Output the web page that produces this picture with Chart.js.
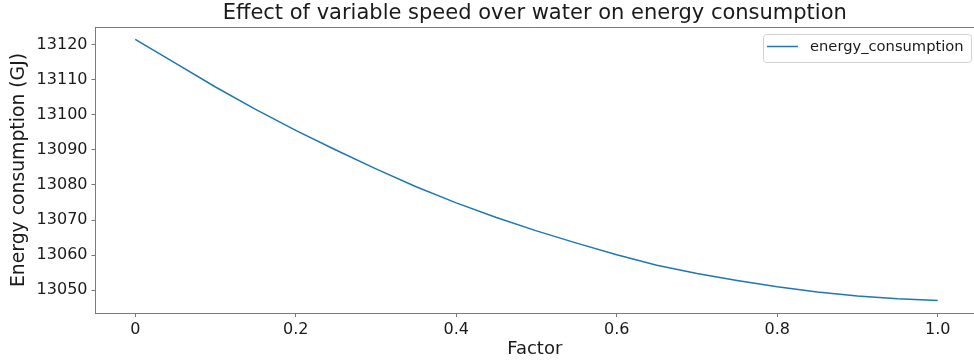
<!DOCTYPE html>
<html>
<head>
<meta charset="utf-8">
<script src="https://cdn.jsdelivr.net/npm/chart.js@4"></script>
<style>
html,body{margin:0;padding:0;background:#fff;}
#wrap{width:974px;height:364px;position:relative;}
</style>
</head>
<body>
<div id="wrap"><canvas id="c" width="974" height="364"></canvas></div>
<script>
// ---- data ----
const factors = [0, 0.05, 0.1, 0.15, 0.2, 0.25, 0.3, 0.35, 0.4, 0.45, 0.5,
                 0.55, 0.6, 0.65, 0.7, 0.75, 0.8, 0.85, 0.9, 0.95, 1.0];
const energyConsumption = [13121.6, 13114.8, 13108.0, 13101.6, 13095.6, 13090.0,
  13084.6, 13079.5, 13074.9, 13070.7, 13066.9, 13063.4, 13060.1, 13057.1,
  13054.7, 13052.7, 13050.9, 13049.4, 13048.3, 13047.5, 13047.0];
const seriesLabel = 'energy_consumption';
const chartTitle = 'Effect of variable speed over water on energy consumption';
const xTitle = 'Factor';
const yTitle = 'Energy consumption (GJ)';

const FONT = "'DejaVu Sans', sans-serif";
const TXT = '#1a1a1a';
const SPINE = '#7a7a7a';

const frameTop = {
  id: 'frameTop',
  afterDraw(chart) {
    const {ctx, chartArea: a} = chart;
    ctx.save();
    ctx.strokeStyle = SPINE;
    ctx.lineWidth = 1;
    ctx.beginPath();
    ctx.moveTo(a.left, a.top + 0.5);
    ctx.lineTo(a.right, a.top + 0.5);
    ctx.stroke();
    ctx.restore();
  }
};

const boxLegend = {
  id: 'boxLegend',
  afterDraw(chart) {
    const {ctx} = chart;
    const ds = chart.data.datasets[0];
    const x = 763.5, y = 34.5, w = 208, h = 28, r = 3;
    ctx.save();
    ctx.fillStyle = 'rgba(255,255,255,0.8)';
    ctx.strokeStyle = '#d0d0d0';
    ctx.lineWidth = 1;
    ctx.beginPath();
    ctx.roundRect(x, y, w, h, r);
    ctx.fill();
    ctx.stroke();
    ctx.strokeStyle = ds.borderColor;
    ctx.lineWidth = ds.borderWidth;
    ctx.beginPath();
    ctx.moveTo(767, 46.5);
    ctx.lineTo(798, 46.5);
    ctx.stroke();
    ctx.fillStyle = TXT;
    ctx.font = "14.7px " + FONT;
    ctx.textBaseline = 'middle';
    ctx.textAlign = 'left';
    ctx.fillText(ds.label, 810, 47);
    ctx.restore();
  }
};

new Chart(document.getElementById('c'), {
  type: 'line',
  data: {
    datasets: [{
      label: seriesLabel,
      data: factors.map((f, i) => ({x: f, y: energyConsumption[i]})),
      borderColor: '#1f77b4',
      backgroundColor: '#1f77b4',
      borderWidth: 1.5,
      pointRadius: 0,
      tension: 0,
      fill: false
    }]
  },
  options: {
    responsive: false,
    animation: false,
    events: [],
    layout: {padding: 0},
    plugins: {
      legend: {display: false},
      tooltip: {enabled: false},
      title: {
        display: true,
        text: chartTitle,
        fullSize: false,
        color: TXT,
        font: {family: FONT, size: 21, weight: 'normal', lineHeight: 1.2},
        padding: {top: 1, bottom: 0.8}
      }
    },
    scales: {
      x: {
        type: 'linear',
        min: -0.0495,
        max: 1.0452,
        afterFit(s) { s.height = 51; },
        grid: {display: true, drawOnChartArea: false, drawTicks: true, tickLength: 4, color: SPINE},
        border: {display: true, color: SPINE, width: 1},
        ticks: {
          stepSize: 0.2,
          includeBounds: false,
          color: TXT,
          padding: 3,
          maxRotation: 0,
          font: {family: FONT, size: 16},
          callback: (v) => {
            const r = Math.round(v * 10) / 10;
            return r === 0 ? '0' : r.toFixed(1);
          }
        },
        title: {
          display: true, text: xTitle, color: TXT,
          font: {family: FONT, size: 18, lineHeight: 1.2},
          padding: {top: 0, bottom: 4}
        }
      },
      y: {
        type: 'linear',
        min: 13043.43,
        max: 13125.14,
        afterFit(s) { s.width = 95.5; },
        grid: {display: true, drawOnChartArea: false, drawTicks: true, tickLength: 4, color: SPINE},
        border: {display: true, color: SPINE, width: 1},
        ticks: {
          stepSize: 10,
          includeBounds: false,
          color: TXT,
          padding: 4,
          font: {family: FONT, size: 16},
          callback: (v) => String(Math.round(v))
        },
        title: {
          display: true, text: yTitle, color: TXT,
          font: {family: FONT, size: 18.8, lineHeight: 1.2},
          padding: {top: 8, bottom: 0}
        }
      }
    }
  },
  plugins: [frameTop, boxLegend]
});
</script>
</body>
</html>
